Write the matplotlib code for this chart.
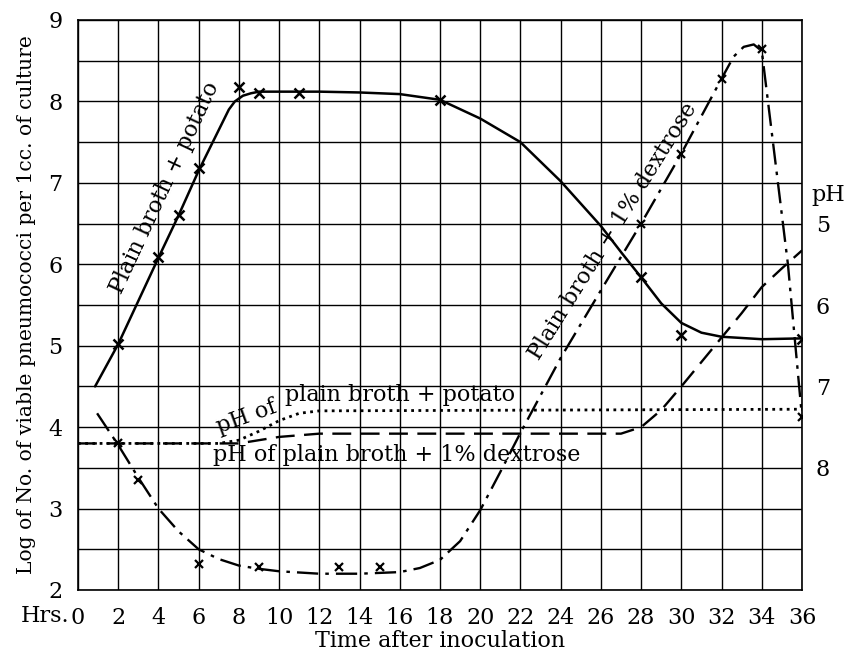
import matplotlib
matplotlib.use("Agg")
import matplotlib.pyplot as plt
import numpy as np

# ---- data ----
# growth curve: plain broth + potato (solid line)
potato_curve_hr = [0.85, 2, 4, 5, 6, 7, 7.5, 7.8, 8.2, 8.6, 9, 10, 12, 14, 16, 18, 20, 22, 24, 26, 27, 28, 29, 30, 31, 32, 34, 36]
potato_curve_log = [4.5, 5.02, 6.08, 6.6, 7.15, 7.65, 7.9, 8.0, 8.07, 8.1, 8.12, 8.12, 8.12, 8.11, 8.09, 8.02, 7.79, 7.5, 7.02, 6.47, 6.15, 5.84, 5.52, 5.28, 5.16, 5.11, 5.08, 5.09]
potato_pts_hr = [2, 4, 5, 6, 8, 9, 11, 18, 28, 30, 36]
potato_pts_log = [5.02, 6.09, 6.6, 7.18, 8.18, 8.1, 8.1, 8.02, 5.85, 5.13, 5.08]

# growth curve: plain broth + 1% dextrose (dash-dot line)
dex_curve_hr = [0.95, 2, 3, 4, 5, 6, 7, 8, 9, 10, 12, 14, 16, 17, 18, 19, 20, 21, 22, 24, 26, 28, 30, 32, 32.6, 33.1, 33.6, 34, 35.3, 36]
dex_curve_log = [4.17, 3.78, 3.38, 3.0, 2.72, 2.5, 2.38, 2.3, 2.26, 2.23, 2.2, 2.2, 2.22, 2.27, 2.37, 2.6, 2.98, 3.45, 3.93, 4.85, 5.68, 6.5, 7.36, 8.28, 8.55, 8.67, 8.7, 8.62, 6.0, 4.12]
dex_pts_hr = [2, 3, 6, 9, 13, 15, 28, 30, 32, 34, 36]
dex_pts_log = [3.8, 3.35, 2.32, 2.28, 2.28, 2.28, 6.5, 7.36, 8.28, 8.64, 4.12]

# pH curves (right axis)
ph_potato_hr = [0, 7, 8, 9, 10, 11, 12, 36]
ph_potato = [7.7, 7.7, 7.66, 7.55, 7.42, 7.33, 7.3, 7.28]
ph_dex_hr = [0, 8, 9, 10, 11, 12, 27, 28, 29, 30, 31, 32, 33, 34, 35, 36]
ph_dex = [7.7, 7.7, 7.66, 7.62, 7.6, 7.58, 7.58, 7.5, 7.29, 7.0, 6.7, 6.4, 6.1, 5.78, 5.55, 5.33]

x_ticks = list(range(0, 37, 2))
y_ticks = [2, 3, 4, 5, 6, 7, 8, 9]
ph_ticks = [5, 6, 7, 8]

FONT = "DejaVu Serif"
plt.rcParams['font.family'] = [FONT]

W, H = 844, 656
fig = plt.figure(figsize=(W / 100, H / 100), dpi=100)
L, R, T, B = 78, 802, 20, 590
ax = fig.add_axes([L / W, 1 - B / H, (R - L) / W, (B - T) / H])
ax.set_xlim(0, 36)
ax.set_ylim(2, 9)

# grid
ax.set_xticks(x_ticks)
ax.set_xticklabels([str(v) for v in x_ticks])
ax.set_yticks(y_ticks)
ax.set_yticklabels([str(v) for v in y_ticks])
ax.set_yticks(np.arange(2, 9.01, 0.5), minor=True)
ax.grid(True, which='major', color='black', lw=1.0)
ax.grid(True, which='minor', axis='y', color='black', lw=1.0)
ax.tick_params(which='both', length=0)
ax.tick_params(axis='x', labelsize=16, pad=12)
ax.tick_params(axis='y', labelsize=16, pad=11)
for s in ax.spines.values():
    s.set_color('black')
    s.set_linewidth(1.2)

# curves
ax.plot(potato_curve_hr, potato_curve_log, color='black', lw=1.8, solid_capstyle='round')
ax.plot(potato_pts_hr, potato_pts_log, ls='none', marker='x', ms=7, mew=1.8, color='black')
ax.plot(dex_curve_hr, dex_curve_log, color='black', lw=1.7, dashes=(9, 3, 1.5, 3))
ax.plot(dex_pts_hr, dex_pts_log, ls='none', marker='x', ms=6, mew=1.6, color='black')

# pH axis
ax2 = ax.twinx()
ax2.set_ylim(9.5, 2.5)
ax2.set_xlim(0, 36)
ax2.plot(ph_potato_hr, ph_potato, color='black', lw=2.0, ls=(0, (1, 1.6)))
ax2.plot(ph_dex_hr, ph_dex, color='black', lw=1.7, dashes=(8, 4))
ax2.set_yticks(ph_ticks)
ax2.set_yticklabels([str(v) for v in ph_ticks])
ax2.tick_params(length=0, labelsize=16, pad=10)
for s in ax2.spines.values():
    s.set_visible(False)
fig.text(811 / W, 1 - 195 / H, "pH", fontsize=16, ha='left', va='center')

# labels
ax.set_ylabel("Log of No. of viable pneumococci per 1cc. of culture", fontsize=14.6, labelpad=9)
ax.set_xlabel("Time after inoculation", fontsize=16, labelpad=1)
fig.text(69 / W, 1 - 616 / H, "Hrs.", fontsize=16, ha='right', va='center')

ax.text(4.33, 6.94, "Plain broth + potato", rotation=65, fontsize=16, ha='center', va='center', rotation_mode='anchor')
ax.text(26.6, 6.4, "Plain broth + 1% dextrose", rotation=58, fontsize=16, ha='center', va='center', rotation_mode='anchor')
ax.text(8.4, 4.12, "pH of", rotation=20, fontsize=16, ha='center', va='center', rotation_mode='anchor')
ax.text(10.3, 4.39, "plain broth + potato", fontsize=16, ha='left', va='center')
ax.text(6.7, 3.66, "pH of plain broth + 1% dextrose", fontsize=16, ha='left', va='center')

fig.savefig("out.png", dpi=100, facecolor='white')
